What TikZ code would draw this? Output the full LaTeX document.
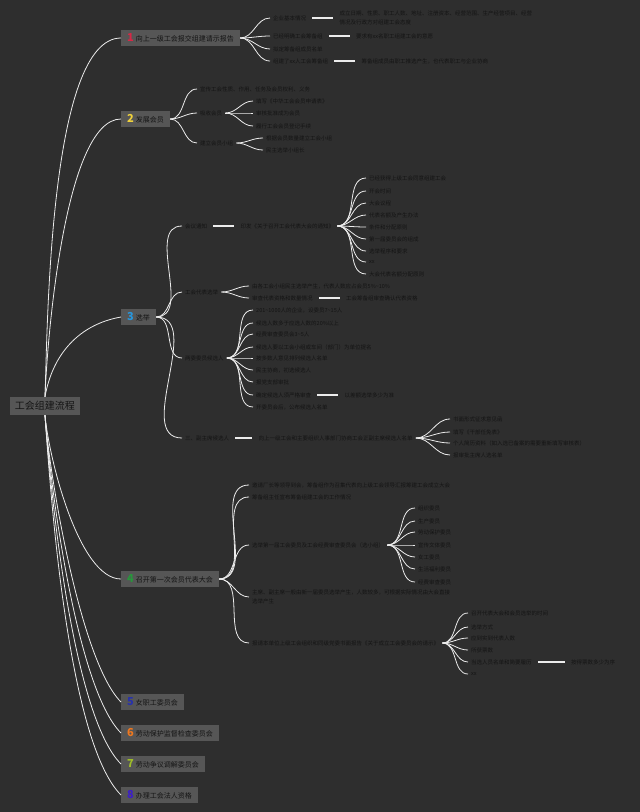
\documentclass[tikz,border=0pt]{standalone}
\usepackage{fontspec}
\setmainfont{Noto Sans CJK SC}
\usepackage{tikz}
\usetikzlibrary{positioning}
\definecolor{bg}{RGB}{46,46,46}
\definecolor{boxc}{RGB}{86,86,86}
\definecolor{ink}{RGB}{20,20,20}
\definecolor{wire}{RGB}{236,236,236}
\definecolor{n1}{RGB}{214,40,70}
\definecolor{n2}{RGB}{240,210,60}
\definecolor{n3}{RGB}{40,150,220}
\definecolor{n4}{RGB}{40,150,60}
\definecolor{n5}{RGB}{40,50,170}
\definecolor{n6}{RGB}{240,120,30}
\definecolor{n7}{RGB}{160,190,40}
\definecolor{n8}{RGB}{60,30,200}
\newcommand\tagno[2]{{\fontsize{11}{11}\selectfont\bfseries\color{#1}#2}\hspace{2pt}}

\begin{document}
\begin{tikzpicture}[x=1pt,y=-1pt,node distance=27pt,
    every node/.style={text=ink},
    root/.style={fill=boxc,font=\fontsize{10}{12}\selectfont,inner xsep=5pt,minimum height=18pt},
    main/.style={fill=boxc,anchor=west,font=\fontsize{7}{8}\selectfont,inner xsep=6pt,inner ysep=1pt,minimum height=15.5pt},
    leaf/.style={anchor=west,font=\fontsize{5.5}{6.6}\selectfont,inner xsep=3pt,inner ysep=1pt},
    link/.style={draw=wire,line width=.8pt},
    bar/.style={draw=wire,line width=1.4pt,shorten <=3pt,shorten >=3pt}]
   \fill[bg] (0,0) rectangle (640,812);
   \node[root] (r) at (45,406) {工会组建流程};
   \node[main] (m_1) at (121,38) {\tagno{n1}{1}向上一级工会报交组建请示报告};
   \node[main] (m_2) at (121,119) {\tagno{n2}{2}发展会员};
   \node[main] (m_3) at (121,317) {\tagno{n3}{3}选举};
   \node[main] (m_4) at (121,579) {\tagno{n4}{4}召开第一次会员代表大会};
   \node[main] (m_5) at (121,702) {\tagno{n5}{5}女职工委员会};
   \node[main] (m_6) at (121,733) {\tagno{n6}{6}劳动保护监督检查委员会};
   \node[main] (m_7) at (121,764) {\tagno{n7}{7}劳动争议调解委员会};
   \node[main] (m_8) at (121,795) {\tagno{n8}{8}办理工会法人资格};
    \path[link]
    (r.north) edge [out=88,in=180,looseness=.5] (m_1.west)
              edge [out=88,in=180,looseness=.5] (m_2.west)
              edge [out=80,in=190] (m_3.west)
    (r.south) edge [out=-85,in=180,looseness=.6] (m_4.west)
              edge [out=-86,in=135,looseness=.5] (m_5.west)
              edge [out=-86,in=135,looseness=.5] (m_6.west)
              edge [out=-86,in=135,looseness=.5] (m_7.west)
              edge [out=-86,in=135,looseness=.5] (m_8.west);
%  branch 1
   \node[leaf] (s_11) at (270,18) {企业基本情况};
   \node[leaf,align=left,font=\fontsize{5.5}{9}\selectfont,right=of s_11] (d_11) {成立日期、性质、职工人数、地址、注册资本、经营范围、生产经营项目、经营\\情况及行政方对组建工会态度};
   \node[leaf] (s_12) at (270,36) {已经明确工会筹备组};
   \node[leaf,right=of s_12] (d_12) {要求有xx名职工组建工会的意愿};
   \node[leaf] (s_13) at (270,49) {拟定筹备组成员名单};
   \node[leaf] (s_14) at (270,61) {组建了xx人工会筹备组};
   \node[leaf,right=of s_14] (d_14) {筹备组成员由职工推选产生，也代表职工与企业协商};
    \path[link] (m_1.east) edge [out=0,in=180] (s_11.west)
          edge [out=0,in=180] (s_12.west)
          edge [out=0,in=180] (s_13.west)
          edge [out=0,in=180] (s_14.west);
    \path[bar] (s_11) edge (d_11) (s_12) edge (d_12) (s_14) edge (d_14);
%  branch 2
   \node[leaf] (s_21) at (197,89) {宣传工会性质、作用、任务及会员权利、义务};
   \node[leaf] (s_22) at (197,113) {吸收会员};
   \node[leaf] (t_221) at (253,101) {填写《中华工会会员申请表》};
   \node[leaf] (t_222) at (253,113) {审核批准成为会员};
   \node[leaf] (t_223) at (253,126) {履行工会会员登记手续};
   \node[leaf] (s_23) at (197,143) {建立会员小组};
   \node[leaf] (t_231) at (263,138) {根据会员数量建立工会小组};
   \node[leaf] (t_232) at (263,150) {民主选举小组长};
    \path[link] (m_2.east) edge [out=0,in=180] (s_21.west)
          edge [out=0,in=180] (s_22.west)
          edge [out=0,in=180] (s_23.west)
    (s_22.east) edge [out=0,in=180] (t_221.west)
          edge [out=0,in=180] (t_222.west)
          edge [out=0,in=180] (t_223.west)
    (s_23.east) edge [out=0,in=180] (t_231.west)
          edge [out=0,in=180] (t_232.west);
%  branch 3
   \node[leaf] (s_31) at (182,226) {会议通知};
   \node[leaf,right=of s_31] (d_31) {印发《关于召开工会代表大会的通知》};
   \node[leaf] (t_311) at (366,178) {已经获得上级工会同意组建工会};
   \node[leaf] (t_312) at (366,191) {开会时间};
   \node[leaf] (t_313) at (366,203) {大会议程};
   \node[leaf] (t_314) at (366,215) {代表名额及产生办法};
   \node[leaf] (t_315) at (366,227) {条件和分配原则};
   \node[leaf] (t_316) at (366,239) {第一届委员会的组成};
   \node[leaf] (t_317) at (366,251) {选举程序和要求};
   \node[leaf] (t_318) at (366,262) {xx};
   \node[leaf] (t_319) at (366,274) {大会代表名额分配原则};
   \node[leaf] (s_32) at (182,292) {工会代表选举};
   \node[leaf] (t_321) at (249,286) {由各工会小组民主选举产生，代表人数应占会员5\%\textasciitilde10\%};
   \node[leaf] (t_322) at (249,298) {审查代表资格和数量情况};
   \node[leaf,right=of t_322] (d_322) {工会筹备组审查确认代表资格};
   \node[leaf] (s_33) at (182,358) {两委委员候选人};
   \node[leaf] (t_331) at (253,310) {201\textasciitilde1000人的企业，设委员7\textasciitilde15人};
   \node[leaf] (t_332) at (253,323) {候选人数多于应选人数的20\%以上};
   \node[leaf] (t_333) at (253,334) {经费审查委员会3\textasciitilde5人};
   \node[leaf] (t_334) at (253,347) {候选人要以工会小组或车间（部门）为单位提名};
   \node[leaf] (t_335) at (253,358) {按多数人意见排列候选人名单};
   \node[leaf] (t_336) at (253,370) {民主协商，初选候选人};
   \node[leaf] (t_337) at (253,382) {报党支部审批};
   \node[leaf] (t_338) at (253,395) {确定候选人须严格审查};
   \node[leaf,right=of t_338] (d_338) {以差额选举多少为准};
   \node[leaf] (t_339) at (253,407) {开委员会后，公布候选人名单};
   \node[leaf] (s_34) at (182,438) {三、副主席候选人};
   \node[leaf,right=23pt of s_34] (d_34) {向上一级工会和主要组织人事部门协商工会正副主席候选人名单};
   \node[leaf] (t_341) at (450,419) {书面形式征求意见函};
   \node[leaf] (t_342) at (450,432) {填写《干部任免表》};
   \node[leaf] (t_343) at (450,443) {个人简历资料（如入选已备案的需要重新填写审核表）};
   \node[leaf] (t_344) at (450,455) {报审批主席人选名单};
    \path[link] (m_3.east) edge [out=0,in=180] (s_31.west)
          edge [out=0,in=180] (s_32.west)
          edge [out=0,in=180] (s_33.west)
          edge [out=0,in=180] (s_34.west)
    (d_31.east) edge [out=0,in=180] (t_311.west)
          edge [out=0,in=180] (t_312.west)
          edge [out=0,in=180] (t_313.west)
          edge [out=0,in=180] (t_314.west)
          edge [out=0,in=180] (t_315.west)
          edge [out=0,in=180] (t_316.west)
          edge [out=0,in=180] (t_317.west)
          edge [out=0,in=180] (t_318.west)
          edge [out=0,in=180] (t_319.west)
    (s_32.east) edge [out=0,in=180] (t_321.west)
          edge [out=0,in=180] (t_322.west)
    (s_33.east) edge [out=0,in=180] (t_331.west)
          edge [out=0,in=180] (t_332.west)
          edge [out=0,in=180] (t_333.west)
          edge [out=0,in=180] (t_334.west)
          edge [out=0,in=180] (t_335.west)
          edge [out=0,in=180] (t_336.west)
          edge [out=0,in=180] (t_337.west)
          edge [out=0,in=180] (t_338.west)
          edge [out=0,in=180] (t_339.west)
    (d_34.east) edge [out=0,in=180] (t_341.west)
          edge [out=0,in=180] (t_342.west)
          edge [out=0,in=180] (t_343.west)
          edge [out=0,in=180] (t_344.west);
    \path[bar] (s_31) edge (d_31) (t_322) edge (d_322)
    (t_338) edge (d_338) (s_34) edge (d_34);
%  branch 4
   \node[leaf] (s_41) at (249,485) {邀请厂长等领导到会，筹备组作为召集代表向上级工会领导汇报筹建工会成立大会};
   \node[leaf] (s_42) at (249,497) {筹备组主任宣布筹备组建工会的工作情况};
   \node[leaf] (s_43) at (249,545) {选举第一届工会委员及工会经费审查委员会（选小组）};
   \node[leaf] (t_431) at (415,508) {组织委员};
   \node[leaf] (t_432) at (415,521) {生产委员};
   \node[leaf] (t_433) at (415,532) {劳动保护委员};
   \node[leaf] (t_434) at (415,545) {宣传文体委员};
   \node[leaf] (t_435) at (415,557) {女工委员};
   \node[leaf] (t_436) at (415,569) {生活福利委员};
   \node[leaf] (t_437) at (415,582) {经费审查委员};
   \node[leaf,align=left,font=\fontsize{5.5}{9.5}\selectfont] (s_44) at (249,597) {主席、副主席一般由新一届委员选举产生，人数较多，可根据实际情况由大会直接\\选举产生};
   \node[leaf] (s_45) at (249,643) {报请本单位上级工会组织和同级党委书面报告《关于成立工会委员会的请示》};
   \node[leaf] (t_451) at (468,613) {召开代表大会和会员选举的时间};
   \node[leaf] (t_452) at (468,627) {选举方式};
   \node[leaf] (t_453) at (468,638) {应到实到代表人数};
   \node[leaf] (t_454) at (468,650) {所获票数};
   \node[leaf] (t_455) at (468,662) {当选人员名单和简要履历};
   \node[leaf,right=33pt of t_455] (d_455) {按得票数多少为序};
   \node[leaf] (t_456) at (468,674) {xx};
    \path[link] (m_4.east) edge [out=0,in=180] (s_41.west)
          edge [out=0,in=180] (s_42.west)
          edge [out=0,in=180] (s_43.west)
          edge [out=0,in=180] (s_44.west)
          edge [out=0,in=180] (s_45.west)
    (s_43.east) edge [out=0,in=180] (t_431.west)
          edge [out=0,in=180] (t_432.west)
          edge [out=0,in=180] (t_433.west)
          edge [out=0,in=180] (t_434.west)
          edge [out=0,in=180] (t_435.west)
          edge [out=0,in=180] (t_436.west)
          edge [out=0,in=180] (t_437.west)
    (s_45.east) edge [out=0,in=180] (t_451.west)
          edge [out=0,in=180] (t_452.west)
          edge [out=0,in=180] (t_453.west)
          edge [out=0,in=180] (t_454.west)
          edge [out=0,in=180] (t_455.west)
          edge [out=0,in=180] (t_456.west);
    \path[bar] (t_455) edge (d_455);
\end{tikzpicture}
\end{document}
